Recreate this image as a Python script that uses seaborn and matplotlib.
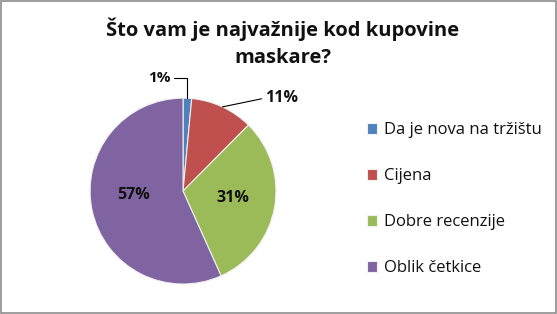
import matplotlib
matplotlib.use("Agg")
import matplotlib.pyplot as plt
import seaborn as sns
import numpy as np

sns.set_theme(style="white")
plt.rcParams['font.family'] = ['Open Sans', 'DejaVu Sans']

categories = ["Da je nova na tržištu", "Cijena", "Dobre recenzije", "Oblik četkice"]
values = [1.5, 11, 31, 57]
labels = ["1%", "11%", "31%", "57%"]
title = "Što vam je najvažnije kod kupovine\nmaskare?"
colors = ["#4F81BD", "#C0504D", "#9BBB59", "#8064A2"]

fig = plt.figure(figsize=(5.57, 3.14), dpi=100)
fig.patch.set_facecolor("white")
ax = fig.add_axes([0.1616, 0.0955, 0.334, 0.592])
wedges, _ = ax.pie(values, colors=colors, startangle=90, counterclock=False,
                   wedgeprops=dict(edgecolor="#f0f0f0", linewidth=0.8))
ax.set_xlim(-1.0, 1.0)
ax.set_ylim(-1.0, 1.0)
ax.set_aspect("equal")

total = sum(values)
angles = []
cum = 0
for v in values:
    mid = 90 - (cum + v / 2) / total * 360
    angles.append(np.deg2rad(mid))
    cum += v

# inside labels
ax.text(0.54, -0.07, labels[2], ha="center", va="center",
        fontsize=11.5, fontweight="bold", color="#111111")
ax.text(-0.53, -0.04, labels[3], ha="center", va="center",
        fontsize=11.5, fontweight="bold", color="#111111")

# outside labels with leader lines
a = angles[0]
p0 = (np.cos(a), np.sin(a))
ax.annotate(labels[0], xy=p0, xytext=(-0.25, 1.22), ha="center", va="center",
            fontsize=11, fontweight="bold", color="#111111",
            arrowprops=dict(arrowstyle="-", color="black", lw=0.8,
                            connectionstyle="angle,angleA=0,angleB=90",
                            shrinkA=0, shrinkB=0,
                            relpos=(1.0, 0.5)), annotation_clip=False)
a = angles[1]
p1 = (np.cos(a) * 1.0, np.sin(a) * 1.0)
ax.annotate(labels[1], xy=p1, xytext=(0.88, 1.0), ha="left", va="center",
            fontsize=11.5, fontweight="bold", color="#111111",
            arrowprops=dict(arrowstyle="-", color="black", lw=0.8,
                            shrinkA=0, shrinkB=0, relpos=(0.0, 0.5)),
            annotation_clip=False)

fig.text(0.508, 0.945, title, ha="center", va="top", fontsize=14.5,
         fontweight="bold", color="#111111", linespacing=1.5)

leg = fig.legend(wedges, categories, loc="upper left",
                 bbox_to_anchor=(0.632, 0.658), frameon=False,
                 fontsize=12, labelspacing=1.8, handlelength=0.6,
                 handleheight=0.6, handletextpad=0.4)
for t in leg.get_texts():
    t.set_color("#111111")

fig.add_artist(plt.Rectangle((0.001, 0.002), 0.997, 0.995, transform=fig.transFigure,
                             fill=False, edgecolor="#8c8c8c", lw=1.2))

fig.savefig("out.png", dpi=100)
